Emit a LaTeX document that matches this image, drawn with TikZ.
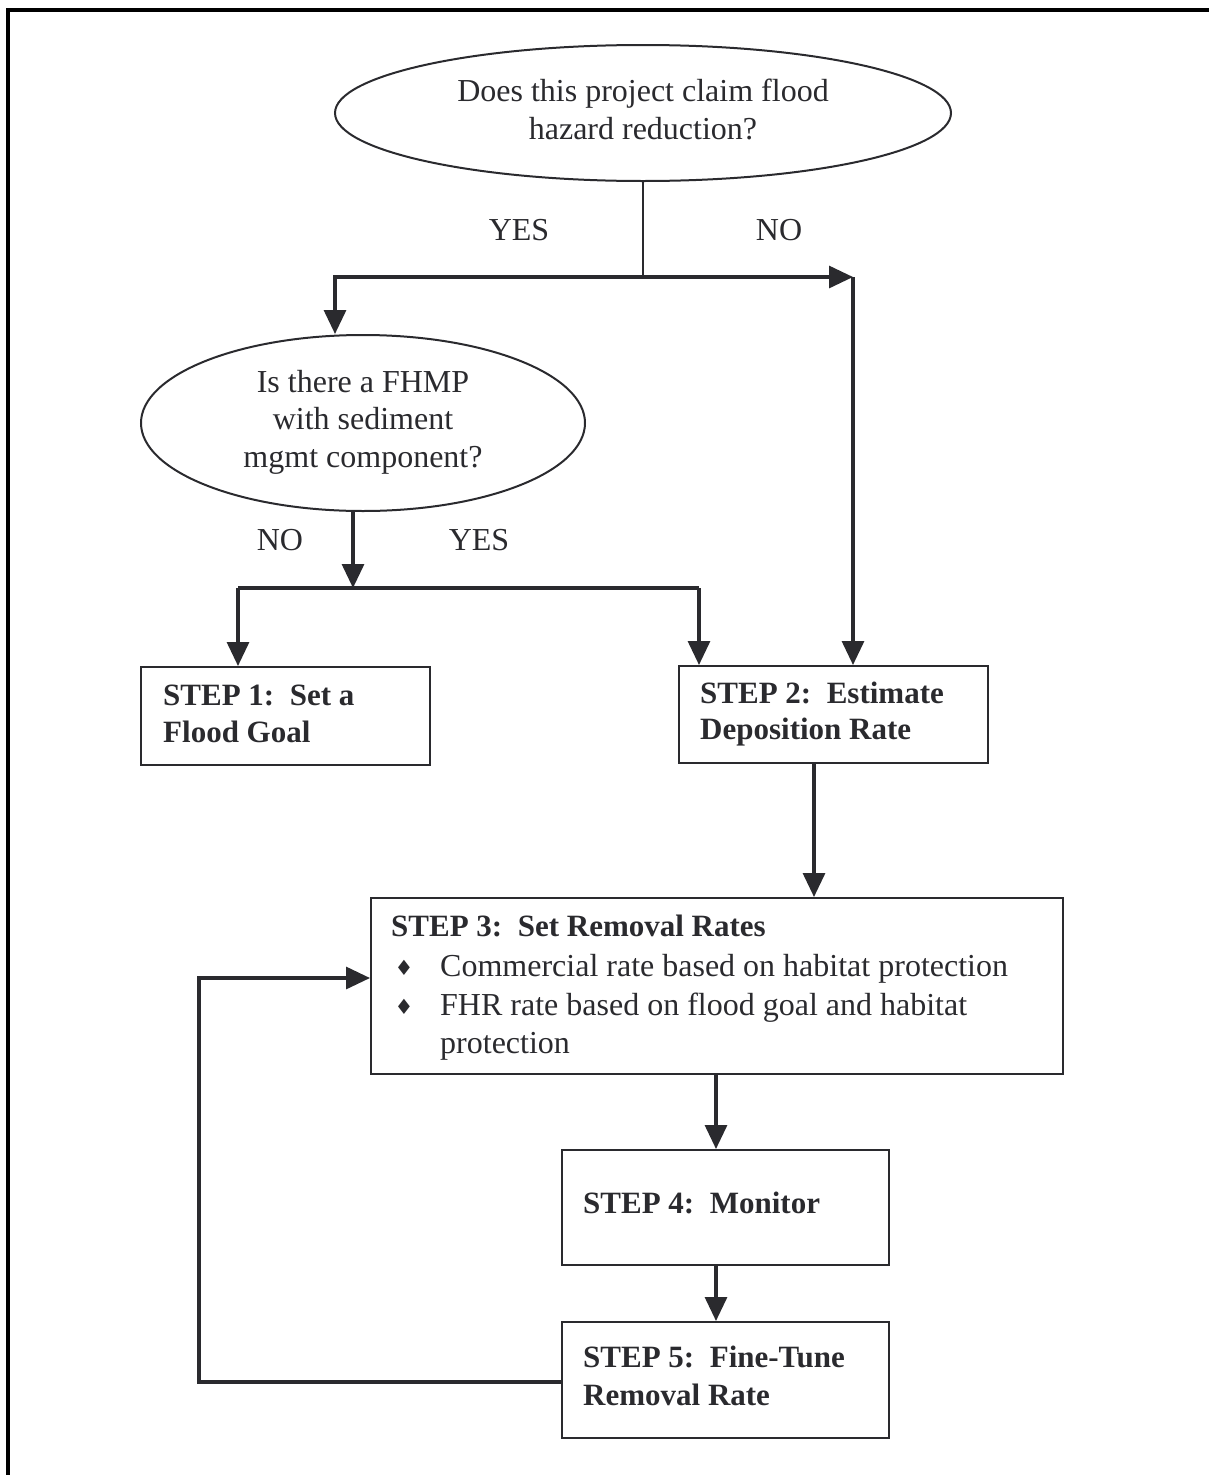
\documentclass[tikz,border=0pt]{standalone}
\usepackage{fontspec}
\setmainfont{Liberation Serif}
\newfontfamily\symfont{DejaVu Sans}
\usetikzlibrary{arrows.meta,shapes.geometric}
\definecolor{ink}{HTML}{2A2A2E}
\begin{document}
\begin{tikzpicture}[x=1pt,y=-1pt,
  ln/.style={line width=3.2pt, draw=ink},
  arr/.style={ln, -{Triangle[length=24pt,width=22pt]}},
  boxn/.style={draw=ink, line width=2pt, rectangle, inner sep=0pt},
  ell/.style={draw=ink, line width=2pt, ellipse, inner sep=0pt},
  txt/.style={text=ink, font=\fontsize{32}{38}\selectfont, inner sep=0pt, anchor=base west},
  btxt/.style={text=ink, font=\fontsize{31}{37}\selectfont\bfseries, inner sep=0pt, anchor=base west},
  ctxt/.style={txt, anchor=base},
  bul/.style={text=ink, font=\fontsize{21}{24}\selectfont\symfont, inner sep=0pt, anchor=base}]
\useasboundingbox (0,0) rectangle (1209,1475);
% frame
\draw[line width=4pt, black] (6,10) -- (1209,10);
\draw[line width=4pt, black] (8,8) -- (8,1475);

% decision 1
\node[ell, minimum width=616pt, minimum height=136pt] (q1) at (643,113) {};
\node[ctxt] (q1a) at (643,101) {Does this project claim flood};
\node[ctxt] (q1b) at (643,139) {hazard reduction?};
\node[ctxt] (yes1) at (519,240) {YES};
\node[ctxt] (no1) at (779,240) {NO};

% decision 2
\node[ell, minimum width=444pt, minimum height=176pt] (q2) at (363,423) {};
\node[ctxt] (q2a) at (363,392) {Is there a FHMP};
\node[ctxt] (q2b) at (363,429) {with sediment};
\node[ctxt] (q2c) at (363,467) {mgmt component?};
\node[ctxt] (no2) at (280,550) {NO};
\node[ctxt] (yes2) at (479,550) {YES};

% step boxes
\node[boxn, minimum width=289pt, minimum height=98pt] (s1) at (285.5,716) {};
\node[btxt] (s1a) at (163,705) {STEP 1:\ \ Set a};
\node[btxt] (s1b) at (163,742) {Flood Goal};

\node[boxn, minimum width=309pt, minimum height=97pt] (s2) at (833.5,714.5) {};
\node[btxt] (s2a) at (700,703) {STEP 2:\ \ Estimate};
\node[btxt] (s2b) at (700,739) {Deposition Rate};

\node[boxn, minimum width=692pt, minimum height=176pt] (s3) at (717,986) {};
\node[btxt] (s3a) at (391,936) {STEP 3:\ \ Set Removal Rates};
\node[bul] (b1) at (404,975) {♦};
\node[txt] (s3b) at (440,976) {Commercial rate based on habitat protection};
\node[bul] (b2) at (404,1014) {♦};
\node[txt] (s3c) at (440,1015) {FHR rate based on flood goal and habitat};
\node[txt] (s3d) at (440,1053) {protection};

\node[boxn, minimum width=327pt, minimum height=115pt] (s4) at (725.5,1207.5) {};
\node[btxt] (s4a) at (583,1213) {STEP 4:\ \ Monitor};

\node[boxn, minimum width=327pt, minimum height=116pt] (s5) at (725.5,1380) {};
\node[btxt] (s5a) at (583,1367) {STEP 5:\ \ Fine-Tune};
\node[btxt] (s5b) at (583,1405) {Removal Rate};

% junctions
\coordinate (j1) at (643,277);
\coordinate (j1w) at (335,277);
\coordinate (j1e) at (853,277);
\coordinate (j2) at (353,588);
\coordinate (j2w) at (238,588);
\coordinate (j2e) at (699,588);
\coordinate (x23) at (814,830);
\coordinate (x34) at (716,1110);
\coordinate (fb1) at (199,1382);
\coordinate (fb2) at (199,978);

% connectors
\draw[ln, line width=2.4pt] (q1.south) -- (j1);
\draw[arr] (j1) -- (j1e);
\draw[arr] (j1e) -- (j1e |- s2.north);
\draw[arr] (j1) -- (j1w) -- (j1w |- q2.north);
\draw[arr] (j2 |- q2.south) -- (j2);
\draw[ln] (j2w) -- (j2e);
\draw[arr] (j2w) -- (j2w |- s1.north);
\draw[arr] (j2e) -- (j2e |- s2.north);
\draw[arr] (x23 |- s2.south) -- (x23 |- s3.north);
\draw[arr] (x34 |- s3.south) -- (x34 |- s4.north);
\draw[arr] (x34 |- s4.south) -- (x34 |- s5.north);
\draw[arr] (s5.west |- fb1) -- (fb1) -- (fb2) -- (fb2 -| s3.west);
\end{tikzpicture}
\end{document}
